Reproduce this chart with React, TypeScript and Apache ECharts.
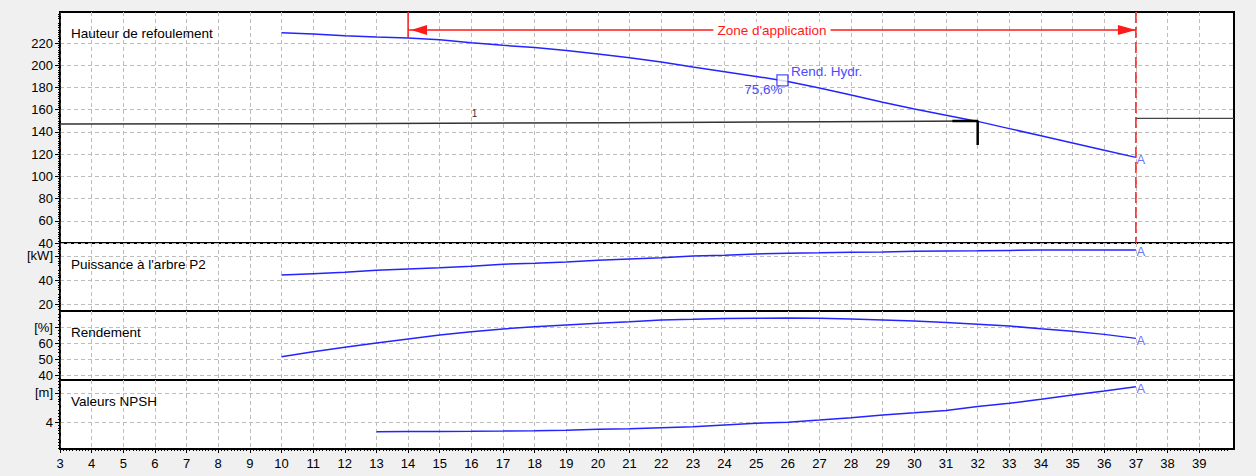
import React, { useEffect, useRef } from "react";
import * as echarts from "echarts";

// ---------- data ----------
const FLOW = [10, 11, 12, 13, 14, 15, 16, 17, 18, 19, 20, 21, 22, 23, 24, 25, 26, 27, 28, 29, 30, 31, 32, 33, 34, 35, 36, 37];
const HEAD = [229.3, 228.1, 226.6, 225.4, 224.5, 223.0, 220.3, 218.0, 216.1, 213.4, 210.1, 206.8, 202.9, 198.4, 194.2, 190.0, 185.4, 179.5, 173.3, 166.8, 160.6, 155.0, 149.5, 143.0, 136.5, 130.0, 123.5, 117.1];
const POWER = [44.2, 45.3, 46.4, 48.1, 49.2, 50.3, 51.4, 53.1, 53.9, 55.0, 56.4, 57.5, 58.6, 60.0, 60.6, 61.7, 62.2, 62.6, 63.1, 63.3, 63.9, 64.2, 64.3, 64.6, 64.9, 65.0, 65.0, 65.0];
const EFFICIENCY = [51.4, 54.6, 57.3, 60.0, 62.5, 65.0, 67.1, 68.8, 70.2, 71.3, 72.3, 73.3, 74.4, 74.8, 75.3, 75.5, 75.6, 75.5, 75.0, 74.4, 73.8, 72.8, 71.8, 70.6, 68.9, 67.4, 65.4, 62.9];
const NPSH_FLOW = [13, 14, 15, 16, 17, 18, 19, 20, 21, 22, 23, 24, 25, 26, 27, 28, 29, 30, 31, 32, 33, 34, 35, 36, 37];
const NPSH = [2.66, 2.68, 2.7, 2.72, 2.75, 2.8, 2.88, 2.99, 3.08, 3.22, 3.36, 3.6, 3.82, 3.98, 4.28, 4.6, 4.97, 5.28, 5.6, 6.15, 6.58, 7.13, 7.72, 8.28, 8.87];

const SYSTEM_FLOW = [3, 11, 20.6, 27.3, 32];
const SYSTEM_HEAD = [147.1, 147.4, 148.3, 149.2, 149.8];
const SYSTEM_TAIL_FLOW = [37, 40.1];
const SYSTEM_TAIL_HEAD = [152.3, 152.3];

const DUTY_FLOW_LEFT = 31.2;
const DUTY_FLOW = 32;
const DUTY_HEAD = 149.8;
const DUTY_DROP = 128.2;

const HYDR_FLOW = 25.83;
const HYDR_HEAD = 186.4;
const HYDR_LABEL = "Rend. Hydr.";
const HYDR_VALUE = "75,6%";

const ZONE_START = 14;
const ZONE_END = 37;
const ZONE_LEVEL = 231.7;
const ZONE_LABEL = "Zone d'application";

const CURVE_MARK = "1";
const CURVE_MARK_FLOW = 16.1;
const CURVE_MARK_HEAD = 156.7;

const END_MARK = "A";

const FLOW_RANGE = [3, 40.1];
const HEAD_RANGE = [40, 248];
const POWER_RANGE = [14.2, 70.8];
const EFF_RANGE = [36.9, 80];
const NPSH_RANGE = [0.28, 9.79];

const X_TICKS = [3, 4, 5, 6, 7, 8, 9, 10, 11, 12, 13, 14, 15, 16, 17, 18, 19, 20, 21, 22, 23, 24, 25, 26, 27, 28, 29, 30, 31, 32, 33, 34, 35, 36, 37, 38, 39];
const HEAD_TICKS = [40, 60, 80, 100, 120, 140, 160, 180, 200, 220];
const POWER_TICKS = [20, 40, 60];
const EFF_TICKS = [40, 50, 60, 70];
const NPSH_TICKS = [4, 8];

const POWER_UNIT = { value: 60, label: "[kW]" };
const EFF_UNIT = { value: 70, label: "[%]" };
const NPSH_UNIT = { value: 8, label: "[m]" };

const PANEL_TITLES = ["Hauteur de refoulement", "Puissance à l'arbre P2", "Rendement", "Valeurs NPSH"];

// ---------- styles ----------
const BLUE = "#2424ff";
const LABEL_BLUE = "#4a4aff";
const RED = "#ff1a1a";
const FONT = "Liberation Sans";
const GRID_LINE = { color: "#bdbdbd", type: [4, 3] as any, width: 1 };

const PANELS = [
  { top: 12, height: 231 },
  { top: 243, height: 68 },
  { top: 311, height: 69 },
  { top: 380, height: 69 },
];
const LEFT = 60;
const RIGHT = 22;

const zip = (xs: number[], ys: number[]) => xs.map((x, i) => [x, ys[i]]);

function yAxis(gridIndex: number, range: number[], ticks: number[], unit: { value: number; label: string } | null, minorSplit: number, interval?: number) {
  const ax: any = {
    type: "value",
    gridIndex,
    min: range[0],
    max: range[1],
    axisLine: { show: true, onZero: false, lineStyle: { color: "#000", width: 1.5 } },
    axisTick: { show: true, length: 5, customValues: ticks, lineStyle: { color: "#000", width: 1 } },
    minorTick: { show: true, splitNumber: minorSplit, length: 2, lineStyle: { color: "#000", width: 1 } },
    axisLabel: {
      customValues: ticks,
      margin: 7,
      color: "#000",
      fontFamily: FONT,
      fontSize: 13,
      formatter: (v: number) => (unit && Math.abs(v - unit.value) < 1e-6 ? unit.label : String(v)),
    },
    splitLine: { show: true, lineStyle: GRID_LINE },
  };
  if (interval) ax.interval = interval;
  return ax;
}

function xAxis(gridIndex: number, bottom: boolean) {
  return {
    type: "value",
    gridIndex,
    min: FLOW_RANGE[0],
    max: FLOW_RANGE[1],
    interval: 1,
    axisLine: { show: bottom, onZero: false, lineStyle: { color: "#000", width: 2 } },
    axisTick: { show: bottom, length: 4, customValues: X_TICKS, lineStyle: { color: "#000" } },
    minorTick: { show: bottom, splitNumber: 10, length: 2, lineStyle: { color: "#000" } },
    axisLabel: {
      show: bottom,
      customValues: X_TICKS,
      margin: 8,
      color: "#000",
      fontFamily: FONT,
      fontSize: 13,
    },
    splitLine: { show: true, lineStyle: GRID_LINE },
  };
}

function curve(name: string, idx: number, xs: number[], ys: number[]) {
  return {
    name,
    type: "line",
    xAxisIndex: idx,
    yAxisIndex: idx,
    data: zip(xs, ys),
    showSymbol: false,
    symbol: "none",
    lineStyle: { color: BLUE, width: 1.5 },
    z: 5,
  };
}

function endMark(idx: number, xs: number[], ys: number[]) {
  return {
    type: "scatter",
    xAxisIndex: idx,
    yAxisIndex: idx,
    data: [[xs[xs.length - 1], ys[ys.length - 1]]],
    symbol: "circle",
    symbolSize: 1,
    itemStyle: { color: "rgba(0,0,0,0)" },
    label: {
      show: true,
      formatter: END_MARK,
      position: "right",
      distance: 0,
      offset: [0, 2],
      color: LABEL_BLUE,
      fontFamily: FONT,
      fontSize: 13,
    },
    silent: true,
    z: 6,
  };
}

export default function App() {
  const ref = useRef<HTMLDivElement>(null);

  useEffect(() => {
    if (!ref.current) return;
    const chart = echarts.init(ref.current, null, { renderer: "svg" });

    const zoneStartHead = HEAD[FLOW.indexOf(ZONE_START)];

    const option: any = {
      animation: false,
      backgroundColor: "#f0f0f0",
      grid: PANELS.map((p) => ({
        left: LEFT,
        right: RIGHT,
        top: p.top,
        height: p.height,
        show: true,
        backgroundColor: "#ffffff",
        borderColor: "#000",
        borderWidth: 2,
        containLabel: false,
      })),
      xAxis: [xAxis(0, false), xAxis(1, false), xAxis(2, false), xAxis(3, true)],
      yAxis: [
        yAxis(0, HEAD_RANGE, HEAD_TICKS, null, 10, 20),
        yAxis(1, POWER_RANGE, POWER_TICKS, POWER_UNIT, 5),
        yAxis(2, EFF_RANGE, EFF_TICKS, EFF_UNIT, 5),
        yAxis(3, NPSH_RANGE, NPSH_TICKS, NPSH_UNIT, 5),
      ],
      graphic: PANEL_TITLES.map((t, i) => ({
        type: "text",
        x: 71,
        y: PANELS[i].top + 21.5,
        z: 100,
        style: { text: t, fill: "#000", fontFamily: FONT, fontSize: 13.5, verticalAlign: "middle" },
      })),
      series: [
        {
          name: "system",
          type: "line",
          xAxisIndex: 0,
          yAxisIndex: 0,
          data: zip(SYSTEM_FLOW, SYSTEM_HEAD),
          showSymbol: false,
          symbol: "none",
          lineStyle: { color: "#333", width: 1.5 },
          z: 4,
        },
        {
          name: "system tail",
          type: "line",
          xAxisIndex: 0,
          yAxisIndex: 0,
          data: zip(SYSTEM_TAIL_FLOW, SYSTEM_TAIL_HEAD),
          showSymbol: false,
          symbol: "none",
          lineStyle: { color: "#444", width: 1.2 },
          z: 4,
        },
        {
          name: "duty",
          type: "line",
          xAxisIndex: 0,
          yAxisIndex: 0,
          data: [
            [DUTY_FLOW_LEFT, DUTY_HEAD],
            [DUTY_FLOW, DUTY_HEAD],
            [DUTY_FLOW, DUTY_DROP],
          ],
          showSymbol: false,
          symbol: "none",
          lineStyle: { color: "#000", width: 2.5 },
          z: 7,
        },
        curve("Hauteur", 0, FLOW, HEAD),
        curve("Puissance", 1, FLOW, POWER),
        curve("Rendement", 2, FLOW, EFFICIENCY),
        curve("NPSH", 3, NPSH_FLOW, NPSH),
        endMark(0, FLOW, HEAD),
        endMark(1, FLOW, POWER),
        endMark(2, FLOW, EFFICIENCY),
        endMark(3, NPSH_FLOW, NPSH),
        {
          name: "hydr",
          type: "scatter",
          xAxisIndex: 0,
          yAxisIndex: 0,
          data: [[HYDR_FLOW, HYDR_HEAD]],
          symbol: "rect",
          symbolSize: 11,
          itemStyle: { color: "#fff", borderColor: BLUE, borderWidth: 1.3 },
          z: 8,
        },
        {
          name: "annotations",
          type: "custom",
          xAxisIndex: 0,
          yAxisIndex: 0,
          data: [[ZONE_START, ZONE_LEVEL]],
          encode: { x: 0, y: 1 },
          clip: false,
          z: 9,
          renderItem: (_params: any, api: any) => {
            const p1 = api.coord([ZONE_START, ZONE_LEVEL]);
            const p2 = api.coord([ZONE_END, ZONE_LEVEL]);
            const top = api.coord([ZONE_START, HEAD_RANGE[1]])[1];
            const bottom = api.coord([ZONE_START, HEAD_RANGE[0]])[1];
            const headAt = api.coord([ZONE_START, zoneStartHead])[1];
            const hp = api.coord([HYDR_FLOW, HYDR_HEAD]);
            const cm = api.coord([CURVE_MARK_FLOW, CURVE_MARK_HEAD]);
            const y = p1[1];
            return {
              type: "group",
              children: [
                { type: "line", shape: { x1: p1[0], y1: top, x2: p1[0], y2: headAt }, style: { stroke: RED, lineWidth: 1.5 } },
                { type: "line", shape: { x1: p2[0], y1: top, x2: p2[0], y2: bottom }, style: { stroke: RED, lineWidth: 1.5, lineDash: [11, 4] } },
                { type: "line", shape: { x1: p1[0], y1: y, x2: p2[0], y2: y }, style: { stroke: RED, lineWidth: 1.5 } },
                {
                  type: "polygon",
                  shape: { points: [[p1[0] + 3, y], [p1[0] + 19, y - 5], [p1[0] + 19, y + 5]] },
                  style: { fill: RED },
                },
                {
                  type: "polygon",
                  shape: { points: [[p2[0], y], [p2[0] - 18, y - 5], [p2[0] - 18, y + 5]] },
                  style: { fill: RED },
                },
                {
                  type: "text",
                  x: (p1[0] + p2[0]) / 2,
                  y: y,
                  style: {
                    text: ZONE_LABEL,
                    fill: RED,
                    fontFamily: FONT,
                    fontSize: 13.5,
                    align: "center",
                    verticalAlign: "middle",
                    backgroundColor: "#fff",
                    padding: [1, 4],
                  },
                },
                {
                  type: "text",
                  x: hp[0] + 8.5,
                  y: hp[1] - 9,
                  style: { text: HYDR_LABEL, fill: LABEL_BLUE, fontFamily: FONT, fontSize: 13.5, align: "left", verticalAlign: "middle" },
                },
                {
                  type: "text",
                  x: hp[0],
                  y: hp[1] + 9.5,
                  style: { text: HYDR_VALUE, fill: LABEL_BLUE, fontFamily: FONT, fontSize: 13.5, align: "right", verticalAlign: "middle" },
                },
                {
                  type: "text",
                  x: cm[0],
                  y: cm[1],
                  style: { text: CURVE_MARK, fill: "#333", fontFamily: FONT, fontSize: 10, align: "center", verticalAlign: "middle" },
                },
              ],
            };
          },
        },
      ],
    };

    chart.setOption(option);
    return () => chart.dispose();
  }, []);

  return (
    <div
      ref={ref}
      style={{ position: "fixed", left: 0, top: 0, width: 1256, height: 476, background: "#f0f0f0" }}
    />
  );
}
